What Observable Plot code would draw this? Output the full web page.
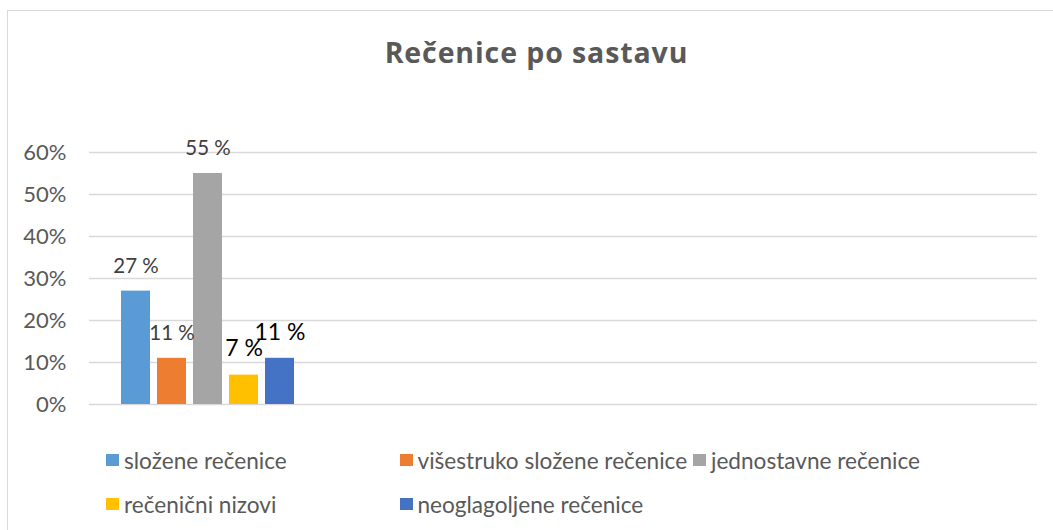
<!DOCTYPE html>
<html>
<head>
<meta charset="utf-8">
<script src="https://cdn.jsdelivr.net/npm/d3@7"></script>
<script src="https://cdn.jsdelivr.net/npm/@observablehq/plot@0.6"></script>
<style>
  html, body { margin: 0; padding: 0; background: #fff; }
  #wrap { position: relative; width: 1053px; height: 530px; overflow: hidden; font-family: Lato, "Open Sans", sans-serif; }
  #frame { position: absolute; left: 7px; top: 10px; width: 1100px; height: 600px; border-left: 1.5px solid #d9d9d9; border-top: 1.5px solid #d9d9d9; }
  #title { position: absolute; left: 0; width: 1073px; top: 35px; text-align: center; font-family: "Open Sans", Lato, sans-serif; font-size: 28.5px; letter-spacing: 0.9px; font-weight: bold; color: #595959; line-height: 34px; }
  #chart { position: absolute; left: 0; top: 0; }
  #legend { position: absolute; left: 106px; top: 447px; display: grid; grid-template-columns: repeat(3, 293.5px); row-gap: 18px; font-size: 22.6px; color: #595959; }
  .item { display: flex; align-items: center; height: 26px; white-space: nowrap; }
  .sw { width: 13px; height: 12px; margin-right: 5px; flex: none; }
</style>
</head>
<body>
<div id="wrap">
  <div id="frame"></div>
  <div id="chart"></div>
  <div id="title"></div>
  <div id="legend"></div>
</div>
<script>
const titleText = "Rečenice po sastavu";
const series = ["složene rečenice", "višestruko složene rečenice", "jednostavne rečenice", "rečenični nizovi", "neoglagoljene rečenice"];
const values = [0.27, 0.11, 0.55, 0.07, 0.11];
const colors = ["#5b9bd5", "#ed7d31", "#a5a5a5", "#ffc000", "#4472c4"];
const yTicks = [0, 0.1, 0.2, 0.3, 0.4, 0.5, 0.6];

const data = series.map((name, i) => ({name, value: values[i]}));
const fmtLabel = v => Math.round(v * 100) + " %";

const plot = Plot.plot({
  width: 1053,
  height: 530,
  marginTop: 152,
  marginBottom: 126,
  marginLeft: 89,
  marginRight: 16,
  style: {background: "transparent", fontFamily: "Lato, 'Open Sans', sans-serif", fontSize: "22px", color: "#595959", overflow: "visible"},
  x: {type: "band", domain: series, range: [120, 295.5], paddingInner: 0.2, paddingOuter: 0, axis: null},
  y: {domain: [0, 0.6], ticks: yTicks, tickFormat: d3.format(".0%"), tickSize: 0, tickPadding: 23, label: null},
  color: {domain: series, range: colors},
  marks: [
    Plot.ruleY(yTicks, {stroke: "#d9d9d9", strokeWidth: 1.5}),
    Plot.barY(data, {x: "name", y: "value", fill: "name"}),
    Plot.text(data.filter((d, i) => i < 3), {x: "name", y: "value", text: d => fmtLabel(d.value), dy: -25, fill: "#404040", fontSize: 20.5}),
    Plot.text(data.filter((d, i) => i >= 3), {x: "name", y: "value", text: d => fmtLabel(d.value), dy: -26, fill: "#000000", fontSize: 23})
  ]
});
document.getElementById("chart").appendChild(plot);
document.getElementById("title").textContent = titleText;

const legend = document.getElementById("legend");
series.forEach((name, i) => {
  const item = document.createElement("div");
  item.className = "item";
  const sw = document.createElement("span");
  sw.className = "sw";
  sw.style.background = colors[i];
  const t = document.createElement("span");
  t.textContent = name;
  item.appendChild(sw);
  item.appendChild(t);
  legend.appendChild(item);
});
</script>
</body>
</html>
